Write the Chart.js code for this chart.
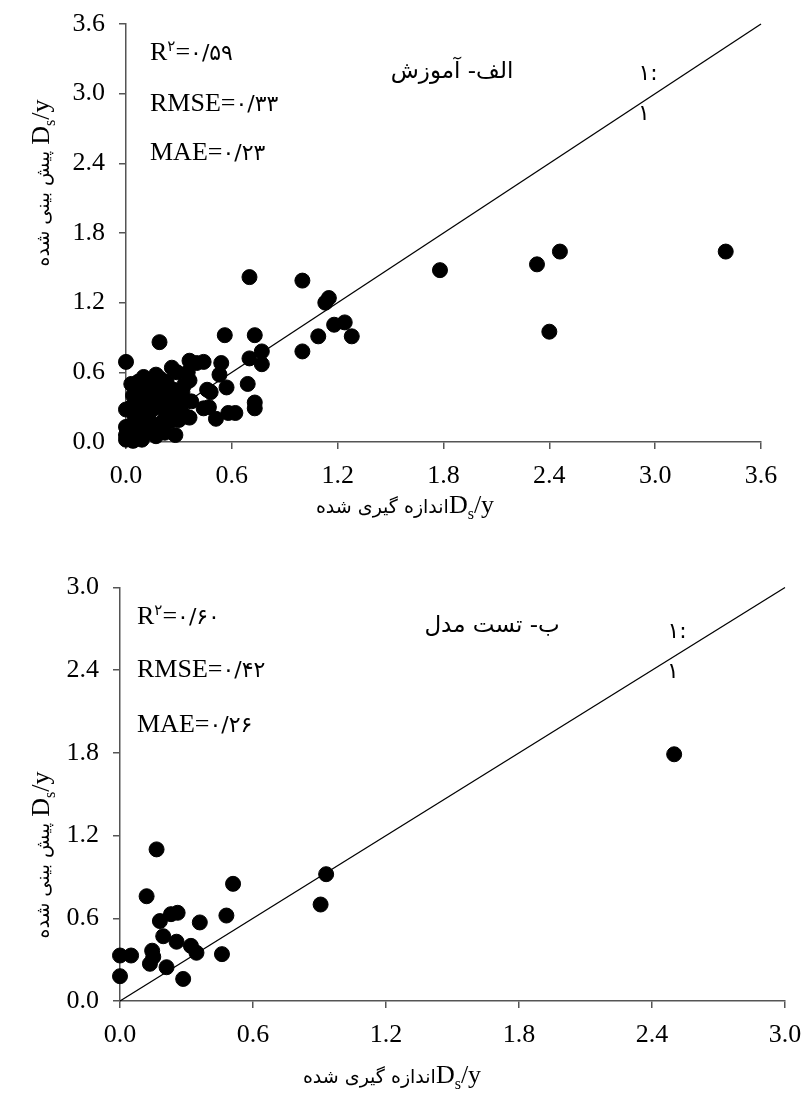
<!DOCTYPE html>
<html>
<head>
<meta charset="utf-8">
<script src="https://cdn.jsdelivr.net/npm/chart.js@4.4.0/dist/chart.umd.min.js"></script>
<style>
  body { margin: 0; background: #fff; }
  #wrap { position: relative; width: 805px; height: 1093px; }
  canvas { position: absolute; left: 0; }
</style>
</head>
<body>
<div id="wrap">
  <canvas id="trainChart" width="805" height="540" style="top:0"></canvas>
  <canvas id="testChart" width="805" height="553" style="top:540px"></canvas>
</div>
<script>
// Training set: measured vs predicted Ds/y
const trainMeasured = [
  1.00, 1.78, 2.33, 2.46, 3.40, 2.40, 1.15, 1.13, 1.18, 1.24, 1.28, 1.09, 1.00, 0.70,
  0.56, 0.73, 0.19, 0.77, 0.00, 0.70, 0.77, 0.36, 0.40, 0.44, 0.54, 0.26, 0.29, 0.53,
  0.10, 0.17, 0.19, 0.07, 0.69, 0.46, 0.48, 0.57, 0.36, 0.33, 0.73, 0.73, 0.47, 0.58,
  0.62, 0.51, 0.36, 0.30, 0.28, 0.00, 0.17,
  0.08, 0.19, 0.06, 0.13, 0.06, 0.17, 0.25, 0.32, 0.37, 0.44, 0.34, 0.00, 0.06, 0.13,
  0.21, 0.00, 0.08, 0.00, 0.04, 0.11, 0.15, 0.10, 0.12, 0.22, 0.10, 0.05, 0.15, 0.09,
  0.02, 0.24, 0.14, 0.04,
  0.03, 0.08, 0.12, 0.16, 0.20, 0.23, 0.18, 0.25, 0.03, 0.14, 0.27, 0.30, 0.22, 0.06,
  0.10, 0.35, 0.31
];
const trainPredicted = [
  1.39, 1.48, 1.53, 1.64, 1.64, 0.95, 1.24, 1.20, 1.01, 1.03, 0.91, 0.91, 0.78, 1.42,
  0.92, 0.92, 0.86, 0.78, 0.69, 0.72, 0.67, 0.70, 0.68, 0.69, 0.68, 0.64, 0.60, 0.58,
  0.56, 0.58, 0.55, 0.52, 0.50, 0.45, 0.43, 0.47, 0.53, 0.49, 0.34, 0.29, 0.30, 0.25,
  0.25, 0.20, 0.21, 0.19, 0.06, 0.28, 0.05,
  0.48, 0.48, 0.36, 0.39, 0.28, 0.30, 0.36, 0.43, 0.35, 0.29, 0.22, 0.13, 0.13, 0.19,
  0.18, 0.06, 0.05, 0.02, 0.01, 0.10, 0.28, 0.25, 0.44, 0.40, 0.33, 0.20, 0.15, 0.02,
  0.08, 0.27, 0.50, 0.40,
  0.30, 0.42, 0.22, 0.40, 0.30, 0.52, 0.12, 0.18, 0.50, 0.08, 0.45, 0.35, 0.08, 0.22,
  0.48, 0.60, 0.28
];

// Test set
const testMeasured = [
  0.165, 0.12, 0.51, 0.93, 0.905, 0.48, 0.36, 0.18, 0.23, 0.26, 0.195, 0.255,
  0.32, 0.345, 0.46, 0.145, 0.15, 0.135, 0.21, 0.285, 0.00, 0.05, 0.00, 2.50
];
const testPredicted = [
  1.10, 0.76, 0.85, 0.92, 0.70, 0.62, 0.57, 0.58, 0.63, 0.64, 0.47, 0.43,
  0.40, 0.35, 0.34, 0.365, 0.32, 0.27, 0.245, 0.16, 0.33, 0.33, 0.18, 1.79
];

const trainTicks = ['0.0', '0.6', '1.2', '1.8', '2.4', '3.0', '3.6'];
const testTicks = ['0.0', '0.6', '1.2', '1.8', '2.4', '3.0'];

const LAT = "'Liberation Serif', 'Times New Roman', serif";
const FA = "'DejaVu Sans', sans-serif";

function toPoints(xs, ys) {
  return xs.map((x, i) => ({ x: x, y: ys[i] }));
}

// draw a row of text runs (mixed fonts, sub/superscripts)
function drawRuns(ctx, runs, x, y, align) {
  let total = 0;
  runs.forEach(r => {
    ctx.font = r.size + 'px ' + r.fam;
    r.w = ctx.measureText(r.t).width;
    total += r.w;
  });
  let cx = align === 'center' ? x - total / 2 : x;
  runs.forEach(r => {
    ctx.font = r.size + 'px ' + r.fam;
    ctx.fillText(r.t, cx, y + (r.dy || 0));
    cx += r.w;
  });
}

function dsy(size) {
  return [
    { t: 'D', size: size, fam: LAT },
    { t: 's', size: Math.round(size * 0.62), fam: LAT, dy: 6 },
    { t: '/y', size: size, fam: LAT }
  ];
}

function stat(name, val, size) {
  if (name === 'R') {
    return [
      { t: 'R', size: size, fam: LAT },
      { t: '۲', size: 15, fam: FA, dy: -9 },
      { t: '=', size: size, fam: LAT },
      { t: val, size: 22, fam: FA }
    ];
  }
  return [
    { t: name + '=', size: size, fam: LAT },
    { t: val, size: 22, fam: FA }
  ];
}

function notesPlugin(cfg) {
  return {
    id: 'notes',
    afterDraw(chart) {
      const ctx = chart.ctx;
      ctx.save();
      ctx.fillStyle = '#000';
      ctx.textBaseline = 'alphabetic';
      ctx.textAlign = 'left';
      cfg.stats.forEach(s => drawRuns(ctx, stat(s[0], s[1], 26), cfg.statX, s[2], 'left'));
      drawRuns(ctx, [{ t: cfg.title, size: 23, fam: FA }], cfg.titleX, cfg.titleY, 'center');
      drawRuns(ctx, [{ t: '۱:', size: 22, fam: FA }], cfg.oneX, cfg.oneY, 'center');
      drawRuns(ctx, [{ t: '۱', size: 22, fam: FA }], cfg.oneX - 4, cfg.oneY + 40, 'center');
      // x axis title
      drawRuns(ctx, [{ t: 'اندازه گیری شده', size: 19, fam: FA }].concat(dsy(26)), cfg.xtX, cfg.xtY, 'center');
      // y axis title (rotated)
      ctx.translate(cfg.ytX, cfg.ytY);
      ctx.rotate(-Math.PI / 2);
      drawRuns(ctx, [{ t: 'پیش بینی شده ', size: 19, fam: FA }].concat(dsy(26)), 0, 9, 'center');
      ctx.restore();
    }
  };
}

function makeChart(id, xs, ys, maxV, ticks, area, notes) {
  const canvas = document.getElementById(id);
  const H = canvas.height;
  const axis = {
    type: 'linear',
    min: 0,
    max: maxV,
    ticks: {
      stepSize: 0.6,
      color: '#000',
      font: { family: LAT, size: 26 },
      callback: (v, i) => ticks[i]
    },
    grid: {
      drawOnChartArea: false,
      drawTicks: true,
      tickLength: 7,
      color: '#555',
      lineWidth: 1.5
    },
    border: { display: true, color: '#555', width: 1.5 }
  };
  return new Chart(canvas, {
    type: 'scatter',
    data: {
      datasets: [
        {
          data: toPoints(xs, ys),
          backgroundColor: '#000',
          borderColor: '#000',
          pointRadius: 7.5,
          pointHoverRadius: 7.5,
          clip: false
        },
        {
          type: 'line',
          data: [{ x: 0, y: 0 }, { x: maxV, y: maxV }],
          borderColor: '#000',
          borderWidth: 1.3,
          pointRadius: 0,
          fill: false,
          clip: false
        }
      ]
    },
    options: {
      responsive: false,
      animation: false,
      devicePixelRatio: 1,
      layout: { padding: { left: 0, top: area.top, right: 805 - area.right, bottom: 0 } },
      plugins: { legend: { display: false }, tooltip: { enabled: false } },
      scales: {
        x: Object.assign({}, axis, {
          ticks: Object.assign({}, axis.ticks, { padding: 12, maxRotation: 0 }),
          afterFit: s => {
            s.height = H - area.bottom;
            s.paddingLeft = 0;
            s.paddingRight = 0;
          }
        }),
        y: Object.assign({}, axis, {
          ticks: Object.assign({}, axis.ticks, { padding: 14 }),
          afterFit: s => {
            s.width = area.left;
            s.paddingTop = 0;
            s.paddingBottom = 0;
          }
        })
      }
    },
    plugins: [notesPlugin(notes)]
  });
}

makeChart('trainChart', trainMeasured, trainPredicted, 3.6, trainTicks,
  { left: 126, right: 761, top: 24, bottom: 442 },
  {
    stats: [['R', '۰/۵۹', 60], ['RMSE', '۰/۳۳', 111], ['MAE', '۰/۲۳', 160]],
    statX: 150, title: 'الف- آموزش', titleX: 452, titleY: 78,
    oneX: 648, oneY: 80, xtX: 405, xtY: 513, ytX: 40, ytY: 183
  });

makeChart('testChart', testMeasured, testPredicted, 3.0, testTicks,
  { left: 120, right: 785, top: 47.5, bottom: 461 },
  {
    stats: [['R', '۰/۶۰', 84], ['RMSE', '۰/۴۲', 137], ['MAE', '۰/۲۶', 192]],
    statX: 137, title: 'ب- تست مدل', titleX: 492, titleY: 92,
    oneX: 677, oneY: 98, xtX: 392, xtY: 543, ytX: 40, ytY: 315
  });
</script>
</body>
</html>
